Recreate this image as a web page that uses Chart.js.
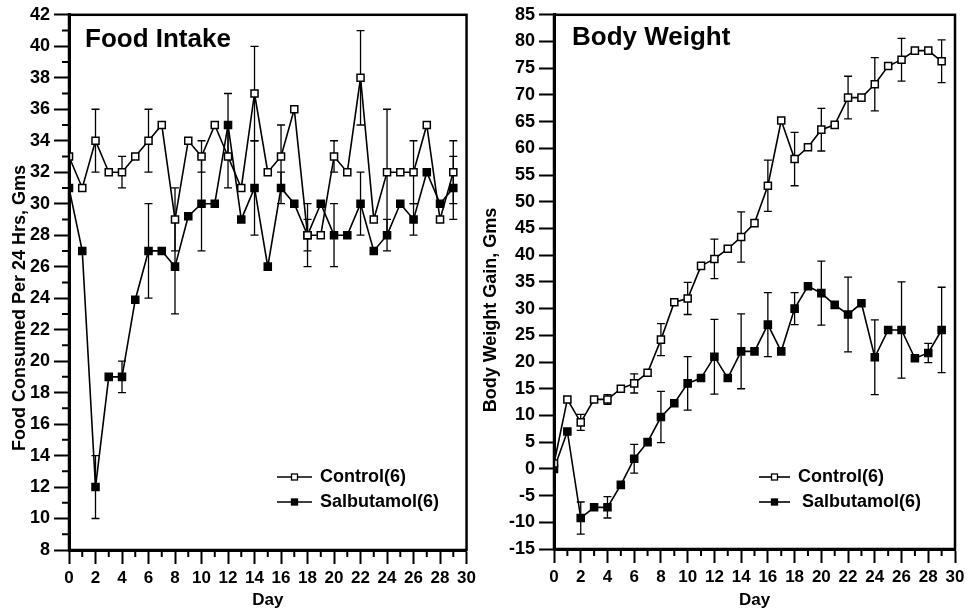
<!DOCTYPE html>
<html>
<head>
<meta charset="utf-8">
<script src="https://cdn.jsdelivr.net/npm/chart.js@4.4.1/dist/chart.umd.min.js"></script>
<style>
  body { margin: 0; background: #fff; width: 969px; height: 615px; overflow: hidden; position: relative; }
  .box { position: absolute; top: 0; height: 615px; }
  #box1 { left: 0; width: 480px; }
  #box2 { left: 480px; width: 489px; }
</style>
</head>
<body>
<div class="box" id="box1"><canvas id="foodChart" width="480" height="615"></canvas></div>
<div class="box" id="box2"><canvas id="weightChart" width="489" height="615"></canvas></div>
<script>
// Dias do estudo
const days = [0, 1, 2, 3, 4, 5, 6, 7, 8, 9, 10, 11, 12, 13, 14, 15, 16, 17, 18, 19, 20, 21, 22, 23, 24, 25, 26, 27, 28, 29];
const minorDays = [1, 3, 5, 7, 9, 11, 13, 15, 17, 19, 21, 23, 25, 27, 29];
const minorFood = [9, 11, 13, 15, 17, 19, 21, 23, 25, 27, 29, 31, 33, 35, 37, 39, 41];

// Food Intake (g / 24 h)
const foodControl = [33, 31, 34, 32, 32, 33, 34, 35, 29, 34, 33, 35, 33, 31, 37, 32, 33, 36, 28, 28, 33, 32, 38, 29, 32, 32, 32, 35, 29, 32];
const foodControlErr = [0, 0, 2, 0, 1, 0, 2, 0, 2, 0, 1, 0, 2, 0, 3, 0, 2, 0, 1, 0, 1, 0, 3, 0, 4, 0, 2, 0, 0, 2];
const foodSalb = [31, 27, 12, 19, 19, 23.9, 27, 27, 26, 29.2, 30, 30, 35, 29, 31, 26, 31, 30, 28, 30, 28, 28, 30, 27, 28, 30, 29, 32, 30, 31];
const foodSalbErr = [0, 0, 2, 0, 1, 0, 3, 0, 3, 0, 3, 0, 2, 0, 3, 0, 1, 0, 2, 0, 2, 0, 2, 0, 1, 0, 1, 0, 0, 2];

// Body Weight Gain (g)
const weightControl = [1, 13, 8.7, 13, 13, 15, 16, 18, 24.2, 31.2, 31.9, 38, 39.3, 41.2, 43.4, 46, 53, 65.2, 58, 60.2, 63.5, 64.4, 69.5, 69.5, 72, 75.4, 76.6, 78.3, 78.3, 76.3];
const weightControlErr = [0, 0, 1.5, 0, 0.9, 0, 1.8, 0, 3, 0, 3, 0, 3.7, 0, 4.7, 0, 4.8, 0, 5, 0, 4, 0, 4, 0, 5, 0, 4, 0, 0, 4];
const weightSalb = [0, 7, -9.2, -7.2, -7.2, -3, 1.9, 5, 9.7, 12.3, 16, 17, 21, 17, 22, 22, 27, 22, 30, 34.2, 32.9, 30.7, 28.9, 31, 20.9, 26, 26, 20.7, 21.7, 26];
const weightSalbErr = [0, 0, 3, 0, 2, 0, 2.7, 0, 4.8, 0, 5, 0, 7, 0, 7, 0, 6, 0, 3, 0, 6, 0, 7, 0, 7, 0, 9, 0, 1.8, 8];

const FONT = '"Liberation Sans", Arial, Helvetica, sans-serif';

function pts(vals) {
    return days.map((d, i) => ({ x: d, y: vals[i] }));
}

// Desenha barras de erro, moldura, ticks menores e textos
const decoPlugin = {
    id: 'deco',
    beforeDatasetsDraw(chart, args, o) {
        const { ctx, scales: { x, y } } = chart;
        ctx.save();
        ctx.strokeStyle = '#000';
        ctx.lineWidth = 1.3;
        o.errs.forEach((errs, di) => {
            const data = chart.data.datasets[di].data;
            errs.forEach((e, j) => {
                if (!e) return;
                const px = x.getPixelForValue(data[j].x);
                const t = y.getPixelForValue(data[j].y + e);
                const b = y.getPixelForValue(data[j].y - e);
                ctx.beginPath();
                ctx.moveTo(px, t); ctx.lineTo(px, b);
                ctx.moveTo(px - 4, t); ctx.lineTo(px + 4, t);
                ctx.moveTo(px - 4, b); ctx.lineTo(px + 4, b);
                ctx.stroke();
            });
        });
        ctx.restore();
    },
    afterDraw(chart, args, o) {
        const { ctx, chartArea: a, scales: { x, y } } = chart;
        ctx.save();
        ctx.strokeStyle = '#000';
        ctx.fillStyle = '#000';
        ctx.lineWidth = 2.5;
        ctx.strokeRect(a.left, a.top, a.right - a.left, a.bottom - a.top);

        // ticks menores
        ctx.lineWidth = 2;
        ctx.beginPath();
        minorDays.forEach(d => {
            const px = x.getPixelForValue(d);
            ctx.moveTo(px, a.bottom); ctx.lineTo(px, a.bottom + 7);
        });
        (o.yMinor || []).forEach(v => {
            const py = y.getPixelForValue(v);
            ctx.moveTo(a.left, py); ctx.lineTo(a.left - 7, py);
        });
        ctx.stroke();

        // titulo
        ctx.font = 'bold 26px ' + FONT;
        ctx.textAlign = 'left';
        ctx.textBaseline = 'alphabetic';
        ctx.fillText(o.title, o.titleX, o.titleY);

        // eixo x
        ctx.font = 'bold 17px ' + FONT;
        ctx.textAlign = 'center';
        ctx.textBaseline = 'middle';
        ctx.fillText('Day', (a.left + a.right) / 2, 600);

        // eixo y
        ctx.save();
        ctx.translate(o.yTitleX, o.yTitleY);
        ctx.rotate(-Math.PI / 2);
        ctx.font = 'bold 18px ' + FONT;
        ctx.fillText(o.yTitle, 0, 0);
        ctx.restore();

        // legenda
        const L = o.legend;
        chart.data.datasets.forEach((ds, i) => {
            const ly = L.y + i * 25;
            ctx.lineWidth = 1.6;
            ctx.beginPath();
            ctx.moveTo(L.x, ly); ctx.lineTo(L.x + L.w, ly);
            ctx.stroke();
            const cx = L.x + L.w / 2;
            ctx.fillStyle = ds.pointBackgroundColor;
            ctx.fillRect(cx - 3, ly - 3, 6, 6);
            ctx.lineWidth = 1.3;
            ctx.strokeRect(cx - 3, ly - 3, 6, 6);
            ctx.fillStyle = '#000';
            ctx.font = 'bold 18px ' + FONT;
            ctx.textAlign = 'left';
            ctx.textBaseline = 'middle';
            ctx.fillText(ds.label, L.textX[i], ly);
        });
        ctx.restore();
    }
};

function makeDataset(label, vals, fill) {
    return {
        label: label,
        data: pts(vals),
        borderColor: '#000',
        borderWidth: 1.6,
        tension: 0,
        pointStyle: 'rect',
        pointRadius: 5,
        pointBorderWidth: 1.5,
        pointBorderColor: '#000',
        pointBackgroundColor: fill
    };
}

function makeChart(id, cfg) {
    const xFont = { family: FONT, size: 17, weight: 'bold' };
    const yFont = { family: FONT, size: 18, weight: 'bold' };
    return new Chart(document.getElementById(id), {
        type: 'line',
        data: {
            datasets: [
                makeDataset('Control(6)', cfg.control, '#fff'),
                makeDataset('Salbutamol(6)', cfg.salb, '#000')
            ]
        },
        options: {
            responsive: false,
            animation: false,
            devicePixelRatio: 1,
            layout: { padding: cfg.padding },
            plugins: {
                legend: { display: false },
                tooltip: { enabled: false },
                deco: cfg.deco
            },
            scales: {
                x: {
                    type: 'linear',
                    min: 0,
                    max: 30,
                    ticks: { stepSize: 2, color: '#000', font: xFont, padding: 4, maxRotation: 0, autoSkip: false },
                    grid: { drawOnChartArea: false, tickLength: 14, tickWidth: 2, tickColor: '#000' },
                    border: { color: '#000', width: 3 },
                    afterFit: s => { s.height = cfg.xHeight; }
                },
                y: {
                    min: cfg.yMin,
                    max: cfg.yMax,
                    ticks: { stepSize: cfg.yStep, color: '#000', font: yFont, padding: 4 },
                    grid: { drawOnChartArea: false, tickLength: 15, tickWidth: 2, tickColor: '#000' },
                    border: { color: '#000', width: 3 },
                    afterFit: s => { s.width = cfg.yWidth; }
                }
            }
        },
        plugins: [decoPlugin]
    });
}

makeChart('foodChart', {
    control: foodControl,
    salb: foodSalb,
    yMin: 8, yMax: 42, yStep: 2,
    yWidth: 69, xHeight: 65,
    padding: { left: 0, right: 12, top: 14, bottom: 0 },
    deco: {
        errs: [foodControlErr, foodSalbErr],
        yMinor: minorFood,
        title: 'Food Intake', titleX: 85, titleY: 47,
        yTitle: 'Food Consumed Per 24 Hrs, Gms', yTitleX: 20, yTitleY: 308,
        legend: { x: 277, y: 477, w: 35, textX: [320, 320] }
    }
});

makeChart('weightChart', {
    control: weightControl,
    salb: weightSalb,
    yMin: -15, yMax: 85, yStep: 5,
    yWidth: 74, xHeight: 66,
    padding: { left: 0, right: 14, top: 12, bottom: 0 },
    deco: {
        errs: [weightControlErr, weightSalbErr],
        yMinor: [],
        title: 'Body Weight', titleX: 92, titleY: 45,
        yTitle: 'Body Weight Gain, Gms', yTitleX: 11, yTitleY: 310,
        legend: { x: 279, y: 477, w: 31, textX: [318, 322] }
    }
});
</script>
</body>
</html>
